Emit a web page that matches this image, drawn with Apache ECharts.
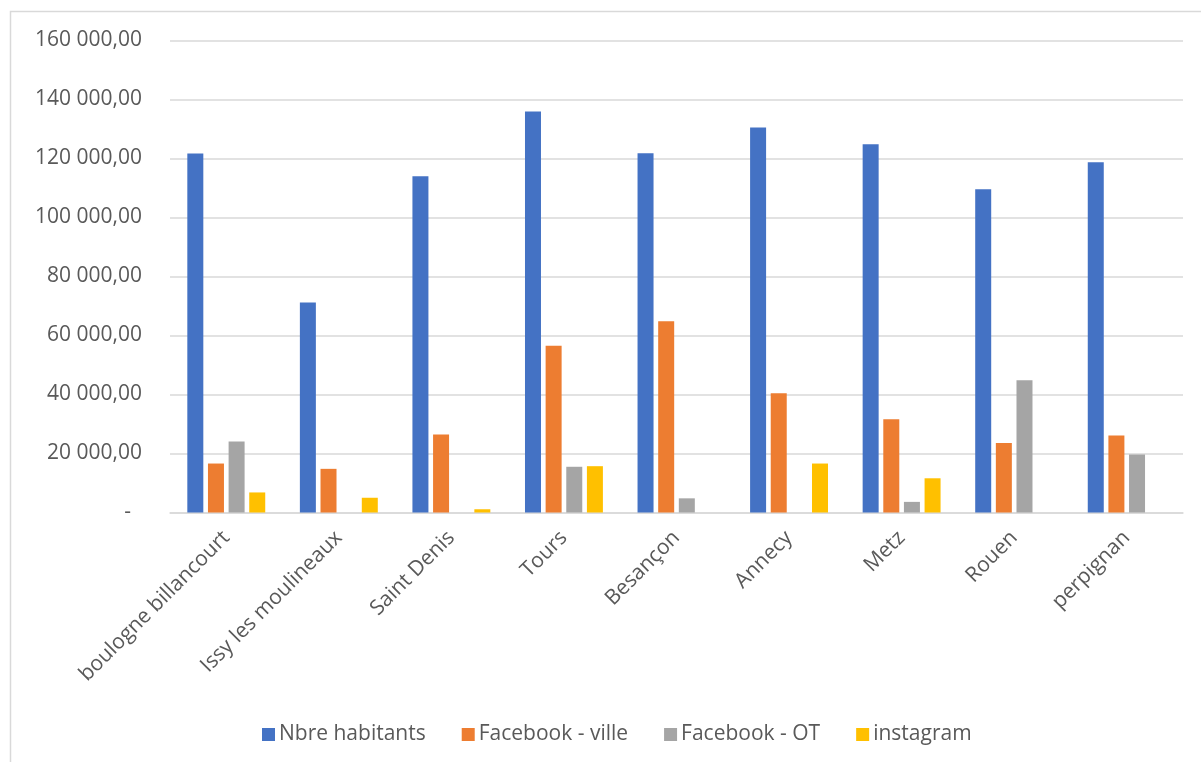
<!DOCTYPE html>
<html>
<head>
<meta charset="utf-8">
<script src="https://cdn.jsdelivr.net/npm/echarts@6/dist/echarts.min.js"></script>
<style>
html,body{margin:0;padding:0;background:#fff;}
#chart{width:1201px;height:762px;}
</style>
</head>
<body>
<div id="chart"></div>
<script>
const categories = ["boulogne billancourt","Issy les moulineaux","Saint Denis","Tours","Besançon","Annecy","Metz","Rouen","perpignan"];
const seriesNames = ["Nbre habitants","Facebook - ville","Facebook - OT","instagram"];
const habitants = [121700, 71200, 114000, 135900, 121800, 130500, 124800, 109600, 118700];
const facebookVille = [16600, 14800, 26400, 56500, 64800, 40400, 31600, 23600, 26100];
const facebookOT = [24100, null, null, 15500, 4800, null, 3600, 44800, 19700];
const instagram = [6800, 5000, 1100, 15700, null, 16600, 11600, null, null];
const yTicks = [0, 20000, 40000, 60000, 80000, 100000, 120000, 140000, 160000];

const colors = ["#4472C4", "#ED7D31", "#A5A5A5", "#FFC000"];
const font = "'Open Sans', 'Noto Sans', sans-serif";
const textColor = "#595959";

function fmt(v) {
  if (v === 0) return "-  ";
  const s = Math.round(v).toString().replace(/\B(?=(\d{3})+(?!\d))/g, " ");
  return s + ",00";
}

const chart = echarts.init(document.getElementById('chart'), null, {renderer: 'canvas'});
const dataSets = [habitants, facebookVille, facebookOT, instagram];

chart.setOption({
  animation: false,
  backgroundColor: '#ffffff',
  color: colors,
  graphic: [{
    type: 'rect',
    shape: {x: 10.5, y: 11.5, width: 1200, height: 760},
    style: {fill: 'none', stroke: '#d9d9d9', lineWidth: 1.5},
    silent: true
  }],
  grid: {left: 170, right: 18, top: 40.5, bottom: 249.5, containLabel: false},
  legend: {
    left: 257, top: 719,
    itemWidth: 13, itemHeight: 13, itemGap: 36,
    icon: 'rect',
    textStyle: {fontFamily: font, fontSize: 21, color: textColor, padding: [0,0,0,-1]},
    data: seriesNames
  },
  xAxis: {
    type: 'category',
    data: categories,
    axisTick: {show: false},
    axisLine: {lineStyle: {color: '#d9d9d9', width: 1.5}},
    axisLabel: {
      interval: 0, rotate: 45, margin: 22,
      fontFamily: font, fontSize: 21, color: textColor
    }
  },
  yAxis: {
    type: 'value',
    min: yTicks[0], max: yTicks[yTicks.length - 1], interval: 20000,
    axisLine: {show: false},
    axisTick: {show: false},
    splitLine: {lineStyle: {color: '#d9d9d9', width: 1.5}},
    axisLabel: {
      margin: 28,
      fontFamily: font, fontSize: 21, color: textColor,
      formatter: fmt
    }
  },
  series: seriesNames.map((name, i) => ({
    name: name,
    type: 'bar',
    data: dataSets[i],
    barWidth: 16,
    barGap: '29%',
    itemStyle: {color: colors[i]}
  }))
});
</script>
</body>
</html>
